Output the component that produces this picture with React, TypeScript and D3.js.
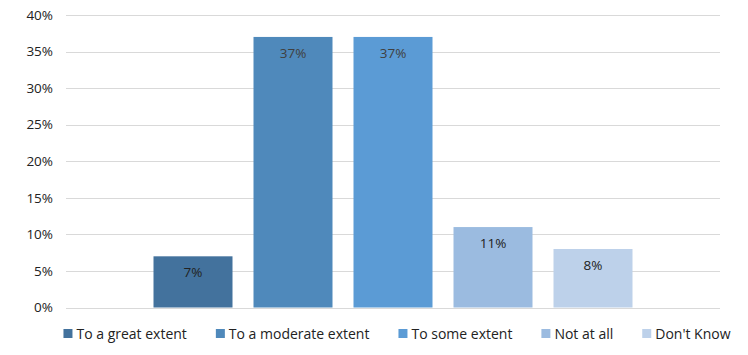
import React, { useMemo } from "react";
import * as d3 from "d3";

const categories = ["To a great extent", "To a moderate extent", "To some extent", "Not at all", "Don't Know"];
const values = [0.07, 0.37, 0.37, 0.11, 0.08];
const colors = ["#43729d", "#4f89bb", "#5b9bd5", "#9bbbe0", "#bdd1ea"];
const yTicks = [0, 0.05, 0.1, 0.15, 0.2, 0.25, 0.3, 0.35, 0.4];

const W = 748;
const H = 355;
const FONT = "Open Sans";
const FS = 13.5;
const LFS = 14;

function measure(text: string): number {
  const c = document.createElement("canvas").getContext("2d");
  if (!c) return text.length * 7;
  c.font = `${LFS}px "${FONT}"`;
  return c.measureText(text).width;
}

export default function App() {
  const plot = { left: 66, right: 720, top: 15, bottom: 307.5 };
  const x = d3.scaleBand<string>().domain(categories).range([plot.left, plot.right]).paddingInner(0.21).paddingOuter(0.875);
  const y = d3.scaleLinear().domain([0, 0.4]).range([plot.bottom, plot.top]);
  const fmt = d3.format(".0%");

  const legend = useMemo(() => {
    const sq = 9, gap = 4, pad = 29;
    const widths = categories.map((c) => measure(c));
    const total = widths.reduce((a, w) => a + sq + gap + w, 0) + pad * (categories.length - 1);
    let cx = 397 - total / 2;
    return categories.map((c, i) => {
      const item = { name: c, x: cx, color: colors[i] };
      cx += sq + gap + widths[i] + pad;
      return item;
    });
  }, []);

  return (
    <svg width={W} height={H} style={{ position: "absolute", left: 0, top: 0, background: "#fff" }} fontFamily={FONT} fontSize={FS}>
      {yTicks.map((t) => (
        <g key={t}>
          <line x1={plot.left} x2={plot.right} y1={Math.round(y(t)) + 0.5} y2={Math.round(y(t)) + 0.5} stroke="#d9d9d9" strokeWidth={1} />
          <text x={53} y={y(t)} dy="0.35em" textAnchor="end" fill="#222">{fmt(t)}</text>
        </g>
      ))}
      {categories.map((c, i) => (
        <g key={c}>
          <rect x={x(c)} y={y(values[i])} width={x.bandwidth()} height={y(0) - y(values[i])} fill={colors[i]} />
          <text x={(x(c) as number) + x.bandwidth() / 2} y={y(values[i]) + 16} dy="0.35em" textAnchor="middle" fill={values[i] > 0.3 ? "#404040" : "#222"}>{fmt(values[i])}</text>
        </g>
      ))}
      {legend.map((l) => (
        <g key={l.name}>
          <rect x={l.x} y={329} width={9} height={9} fill={l.color} />
          <text x={l.x + 13} y={334} dy="0.35em" fontSize={LFS} fill="#222">{l.name}</text>
        </g>
      ))}
    </svg>
  );
}
